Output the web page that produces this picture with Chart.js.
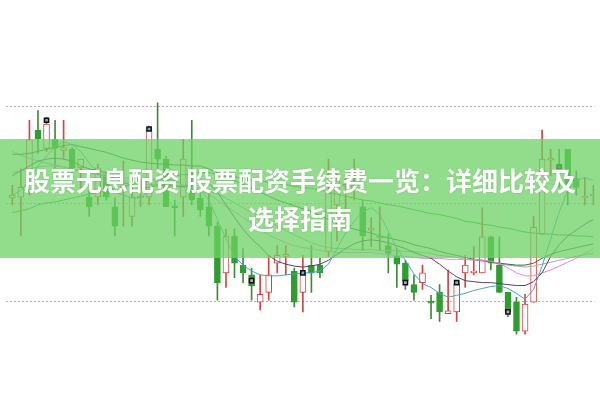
<!DOCTYPE html>
<html>
<head>
<meta charset="utf-8">
<script src="https://cdn.jsdelivr.net/npm/chart.js@4.4.1/dist/chart.umd.min.js"></script>
<style>
  html, body { margin: 0; padding: 0; background: #fff; }
  #wrap { position: relative; width: 600px; height: 399px; overflow: hidden; }
  #kline { position: absolute; left: 0; top: 0; }
  #banner {
    position: absolute; left: 0; top: 139px; width: 600px; height: 119px;
    background: rgba(110, 210, 100, 0.75);
  }
  #banner div {
    position: absolute; left: 20px; top: 22px; width: 560px;
    text-align: center; color: #fff;
    font-family: "Noto Sans CJK SC", "Noto Sans", sans-serif;
    font-weight: bold; font-size: 26px; line-height: 38px;
    text-shadow: 0 0 2px rgba(0, 0, 0, 0.18);
  }
</style>
</head>
<body>
<div id="wrap">
  <canvas id="kline" width="600" height="399"></canvas>
  <div id="banner"><div id="title"></div></div>
</div>
<script>
// candles
const opens  = [20.6, 20.7, 21.4, 27.6, 25.7, 26.6, 25.5, 25.6, 23.7, 20.7, 20.7, 23.1, 19.7, 21.4, 18.7, 20.6, 20.7, 25.6, 24.6, 19.8, 20.7, 21.4, 20.6, 19.7, 17.7, 12.9, 16.7, 13.7, 12.7, 9.9, 10.9, 13.9, 14.6, 13.1, 10.9, 13.7, 13.7, 15.1, 19.9, 21.8, 21.6, 19.7, 17.3, 16.5, 15.7, 14.6, 13.9, 11.7, 11.9, 10.0, 10.9, 8.7, 8.9, 12.9, 12.9, 12.9, 16.6, 13.7, 10.9, 9.9, 6.9, 9.9, 16.9, 24.5, 23.9, 25.6, 22.6, 20.6, 20.8];
const closes = [20.9, 21.7, 26.6, 26.7, 28.2, 25.7, 25.8, 23.7, 24.6, 19.7, 23.7, 20.7, 17.7, 21.8, 20.7, 20.8, 27.6, 24.6, 19.7, 19.6, 24.6, 20.4, 19.4, 17.7, 11.9, 16.7, 13.9, 12.9, 11.6, 10.7, 12.7, 14.7, 14.8, 9.9, 12.9, 12.9, 12.9, 21.1, 22.4, 22.0, 21.9, 16.7, 17.5, 16.7, 14.9, 13.8, 12.1, 10.9, 12.9, 9.8, 8.9, 9.0, 11.8, 13.7, 13.1, 16.6, 13.9, 10.9, 8.9, 6.9, 9.7, 17.6, 24.6, 24.7, 23.6, 21.7, 21.7, 20.8, 21.0];
const highs  = [21.9, 23.6, 28.6, 29.6, 28.9, 28.6, 28.6, 25.8, 24.6, 21.4, 24.1, 23.3, 20.6, 24.4, 21.7, 22.4, 28.0, 30.4, 24.9, 20.4, 26.6, 28.6, 21.1, 21.4, 18.1, 17.4, 17.4, 15.4, 13.4, 12.7, 14.7, 15.7, 15.7, 13.4, 14.7, 15.7, 14.4, 24.6, 23.1, 22.6, 24.6, 20.4, 18.6, 19.7, 16.9, 15.4, 14.2, 12.7, 13.7, 10.6, 11.7, 13.2, 12.1, 14.7, 15.6, 19.6, 16.7, 16.6, 10.9, 10.4, 10.7, 18.7, 27.6, 25.6, 25.6, 25.6, 23.4, 22.7, 21.9];
const lows   = [19.9, 16.7, 20.9, 25.2, 25.4, 23.7, 24.6, 22.9, 21.4, 18.7, 19.9, 20.4, 16.7, 17.7, 17.7, 19.7, 19.9, 23.6, 19.7, 16.7, 18.7, 19.9, 18.7, 16.7, 10.1, 11.4, 12.4, 11.9, 10.1, 9.1, 10.1, 12.9, 12.7, 9.4, 8.9, 10.9, 12.4, 14.6, 16.2, 19.4, 20.4, 15.2, 15.6, 15.2, 12.9, 11.4, 11.2, 10.1, 11.2, 8.2, 7.9, 8.7, 7.9, 11.4, 12.7, 12.9, 13.2, 10.9, 8.4, 6.6, 6.6, 9.9, 16.9, 22.9, 21.7, 19.9, 20.9, 19.9, 19.9];

// moving averages
const ma5   = [20.9, 21.4, 22.4, 23.9, 24.9, 25.9, 26.4, 26.1, 25.4, 24.2, 23.2, 22.2, 21.2, 20.9, 20.6, 20.6, 21.4, 22.4, 22.6, 22.4, 21.9, 21.6, 21.4, 20.4, 18.4, 16.4, 14.6, 13.7, 13.1, 12.7, 12.6, 12.6, 12.7, 12.8, 12.9, 12.9, 13.1, 13.8, 15.4, 17.0, 18.2, 19.2, 19.6, 18.9, 17.2, 15.4, 14.2, 12.8, 11.8, 11.4, 10.8, 10.4, 10.6, 10.8, 11.1, 11.3, 11.5, 11.6, 11.3, 10.8, 10.2, 11.2, 13.6, 16.4, 19.2, 21.4, 22.4, 22.7, 22.4];
const ma10  = [22.9, 23.4, 23.9, 24.4, 24.6, 24.7, 24.6, 24.4, 23.9, 23.6, 23.4, 23.2, 22.6, 22.2, 21.9, 21.6, 21.7, 21.9, 21.9, 21.8, 21.8, 21.9, 22.4, 22.1, 21.2, 19.9, 18.6, 17.4, 16.4, 15.6, 14.7, 14.1, 13.8, 13.6, 13.5, 13.6, 13.8, 14.2, 14.8, 15.4, 15.9, 16.2, 16.3, 16.2, 16.0, 15.7, 15.4, 15.0, 14.7, 14.4, 13.8, 13.1, 12.5, 12.1, 12.0, 11.9, 11.9, 11.8, 11.7, 11.6, 11.6, 12.0, 12.9, 14.6, 15.8, 16.7, 17.3, 17.9, 18.4];
const ma20  = [23.2, 23.4, 23.6, 23.8, 23.9, 23.9, 23.8, 23.6, 23.4, 23.2, 23.0, 22.8, 22.6, 22.4, 22.2, 22.1, 22.0, 22.0, 21.9, 21.8, 21.7, 21.6, 21.4, 21.0, 20.4, 19.8, 19.2, 18.6, 18.0, 17.4, 16.8, 16.4, 16.0, 15.7, 15.5, 15.4, 15.2, 15.1, 15.0, 15.0, 15.0, 15.0, 15.0, 14.9, 14.8, 14.7, 14.6, 14.5, 14.4, 14.4, 14.4, 14.3, 14.3, 14.3, 14.3, 14.2, 14.1, 13.9, 13.4, 12.9, 12.6, 12.6, 12.9, 13.2, 13.6, 14.0, 14.4, 14.9, 15.4];
const ma30  = [25.1, 25.1, 25.2, 25.4, 25.6, 25.8, 26.0, 26.1, 25.9, 25.7, 25.5, 25.3, 25.0, 24.7, 24.5, 24.3, 24.2, 24.1, 24.1, 24.0, 24.0, 23.9, 23.9, 23.6, 23.2, 22.8, 22.4, 22.0, 21.6, 21.2, 20.8, 20.4, 20.1, 19.8, 19.5, 19.2, 18.8, 18.4, 18.0, 17.7, 17.4, 17.2, 17.0, 16.7, 16.5, 16.3, 16.1, 15.8, 15.6, 15.4, 15.1, 14.9, 14.7, 14.5, 14.3, 14.2, 14.0, 13.9, 13.8, 13.7, 13.7, 13.9, 14.4, 14.8, 15.1, 15.3, 15.5, 15.7, 15.9];
const ma60  = [25.4, 25.0, 24.7, 24.4, 24.2, 24.0, 23.8, 23.6, 23.4, 23.2, 23.1, 23.0, 22.8, 22.7, 22.6, 22.5, 22.4, 22.3, 22.1, 21.9, 21.8, 21.6, 21.5, 21.3, 21.0, 20.6, 20.1, 19.6, 19.1, 18.7, 18.2, 17.7, 17.3, 16.8, 16.4, 16.0, 15.7, 15.5, 15.4, 15.4, 15.3, 15.3, 15.3, 15.2, 15.2, 15.2, 15.1, 15.1, 15.0, 14.9, 14.7, 14.6, 14.5, 14.3, 14.2, 14.1, 14.0, 13.8, 13.7, 13.6, 13.5, 13.6, 13.8, 14.0, 14.2, 14.4, 14.6, 14.8, 14.9];
const ma120 = [19.1, 19.3, 19.5, 19.9, 20.1, 20.2, 20.4, 20.6, 20.8, 21.0, 21.2, 21.4, 21.6, 21.8, 22.0, 22.2, 22.4, 22.6, 22.7, 22.9, 23.0, 23.1, 23.2, 23.2, 23.1, 22.9, 22.8, 22.6, 22.5, 22.4, 22.2, 22.1, 22.0, 21.8, 21.7, 21.6, 21.4, 21.2, 21.0, 20.8, 20.6, 20.4, 20.3, 20.1, 19.9, 19.8, 19.6, 19.4, 19.2, 19.0, 18.9, 18.7, 18.5, 18.2, 18.1, 17.9, 17.8, 17.6, 17.5, 17.3, 17.1, 17.0, 16.9, 16.9, 16.8, 16.8, 16.7, 16.7, 16.6];

// small black flags sitting on some candles
const markIdx = [4, 16, 28, 34, 46, 52, 58, 64];
const markVal = [28.6, 27.7, 12.1, 12.9, 11.9, 11.9, 8.9, 23.8];
const markCol = ['#5bb8c8', '#5bb8c8', '#e58ae0', '#5bb8c8', '#e58ae0', '#5bb8c8', '#e58ae0', '#3a6a3a'];

const gridTicks = [10, 20, 30];
const title = '股票无息配资 股票配资手续费一览：详细比较及选择指南';

document.getElementById('title').textContent = title;

const RED = '#d0453f';
const GREEN = '#2f9d2f';
const isUp = opens.map((o, i) => closes[i] >= o);

function line(values, color, order) {
    return {
        type: 'line',
        data: values.map((v, i) => ({ x: i, y: v })),
        borderColor: color,
        borderWidth: 1,
        pointRadius: 0,
        tension: 0,
        order: order
    };
}

new Chart(document.getElementById('kline').getContext('2d'), {
    type: 'bar',
    data: {
        datasets: [
            {
                data: opens.map((o, i) => ({ x: i, y: [lows[i], highs[i]] })),
                backgroundColor: isUp.map(u => u ? RED : '#3f8a3a'),
                barThickness: 1,
                grouped: false,
                order: 9
            },
            {
                data: opens.map((o, i) => ({ x: i, y: [o, closes[i]] })),
                backgroundColor: isUp.map(u => u ? '#ffffff' : GREEN),
                borderColor: isUp.map(u => u ? RED : GREEN),
                borderWidth: 1,
                borderSkipped: false,
                barThickness: 6,
                grouped: false,
                order: 8
            },
            line(ma120, '#3fa63f', 7),
            line(ma60, '#a8a8a8', 6),
            line(ma30, '#2f6e33', 5),
            line(ma20, '#e486e4', 4),
            line(ma10, '#5b4068', 3),
            line(ma5, '#4fa3bd', 2),
            {
                type: 'line',
                data: markIdx.map((k, j) => ({ x: k, y: markVal[j] })),
                showLine: false,
                pointStyle: 'rect',
                pointRadius: 3,
                backgroundColor: markCol,
                borderColor: '#111',
                borderWidth: 1.5,
                order: 1
            }
        ]
    },
    options: {
        responsive: false,
        animation: false,
        layout: { padding: 0 },
        plugins: { legend: { display: false }, tooltip: { enabled: false } },
        scales: {
            x: { type: 'linear', min: -0.8, max: 68.13, offset: false, display: false },
            y: {
                min: 0.5,
                max: 40.4,
                ticks: { display: false },
                grid: { color: '#b3b3b3', drawTicks: false },
                border: { display: false, dash: [2, 2] },
                afterBuildTicks: scale => {
                    scale.ticks = gridTicks.map(v => ({ value: v }));
                }
            }
        }
    }
});
</script>
</body>
</html>
